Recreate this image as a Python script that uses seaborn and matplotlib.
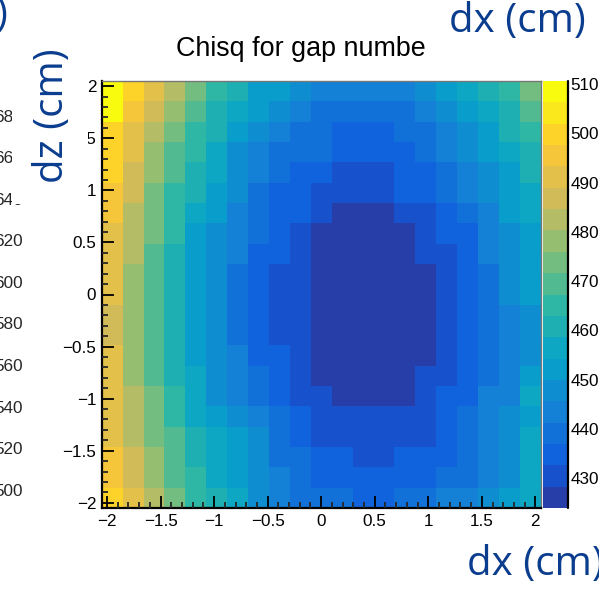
import numpy as np
import pandas as pd
import matplotlib
matplotlib.use("Agg")
import matplotlib.pyplot as plt
from matplotlib.colors import ListedColormap, BoundaryNorm, LinearSegmentedColormap
from matplotlib.patches import Rectangle
from matplotlib.ticker import FixedLocator
import seaborn as sns

sns.set_theme(style="white")
plt.rcParams["font.family"] = ["Liberation Sans", "DejaVu Sans"]

W, H, DPI = 599, 597, 100

# binning of the scan: 21 x 21 bins over [-2.05, 2.05] cm
dx_range = (-2.05, 2.05)
dz_range = (-2.05, 2.05)
n_bins = 21
n_levels = 20

# chi-square per (dz, dx) bin; first row is the top row (dz = +1.95)
chisq = [
    [510.6, 500, 491, 482, 474, 465, 461, 452, 452, 448, 443, 443, 443, 443, 443, 448, 452, 456, 461, 465, 474],
    [508, 495, 487, 478, 469, 461, 456, 452, 448, 443, 439, 439, 439, 439, 439, 443, 448, 452, 456, 461, 469],
    [500, 491, 482, 474, 465, 461, 452, 448, 443, 439, 439, 435, 435, 435, 439, 439, 443, 448, 452, 461, 465],
    [500, 491, 478, 469, 465, 456, 448, 443, 439, 439, 439, 435, 435, 435, 435, 439, 443, 448, 452, 456, 461],
    [500, 487, 478, 469, 461, 456, 448, 443, 439, 435, 435, 430, 430, 430, 435, 435, 439, 443, 448, 452, 461],
    [495, 487, 474, 465, 461, 452, 448, 439, 435, 435, 430, 430, 430, 430, 435, 435, 439, 443, 448, 452, 456],
    [495, 482, 474, 465, 456, 452, 443, 439, 435, 435, 430, 426, 426, 426, 430, 430, 435, 439, 443, 452, 456],
    [491, 482, 474, 465, 452, 448, 443, 439, 435, 430, 426, 426, 426, 426, 426, 430, 435, 435, 443, 448, 452],
    [491, 482, 469, 461, 452, 448, 443, 435, 435, 430, 426, 426, 426, 426, 426, 430, 430, 435, 443, 448, 452],
    [491, 478, 469, 461, 452, 448, 439, 435, 430, 430, 426, 426, 426, 426, 426, 426, 430, 435, 439, 448, 452],
    [491, 478, 469, 461, 452, 448, 439, 435, 430, 430, 426, 426, 424, 426, 426, 426, 430, 435, 439, 448, 452],
    [487, 478, 469, 461, 452, 448, 439, 435, 430, 430, 426, 426, 426, 426, 426, 426, 430, 435, 439, 443, 448],
    [487, 478, 469, 461, 452, 448, 439, 435, 430, 430, 426, 426, 426, 426, 426, 426, 430, 435, 439, 443, 448],
    [491, 478, 469, 461, 452, 448, 443, 435, 435, 430, 426, 426, 426, 426, 426, 426, 430, 435, 439, 443, 448],
    [491, 478, 469, 461, 456, 448, 443, 439, 435, 430, 426, 426, 426, 426, 426, 430, 430, 435, 439, 443, 452],
    [491, 482, 474, 465, 456, 448, 443, 439, 435, 430, 430, 426, 426, 426, 426, 430, 435, 435, 443, 443, 456],
    [491, 482, 474, 465, 456, 452, 448, 443, 439, 435, 430, 430, 430, 430, 430, 430, 435, 439, 443, 448, 452],
    [491, 482, 474, 469, 461, 456, 452, 448, 439, 435, 430, 430, 430, 430, 430, 430, 435, 439, 443, 448, 456],
    [495, 487, 478, 469, 461, 456, 452, 448, 439, 439, 435, 435, 430, 430, 435, 435, 435, 439, 443, 448, 456],
    [495, 487, 478, 469, 465, 456, 452, 448, 443, 439, 435, 435, 435, 435, 435, 435, 439, 439, 443, 448, 456],
    [500, 491, 482, 474, 465, 461, 456, 448, 443, 439, 439, 439, 435, 435, 439, 439, 443, 443, 448, 452, 456],
]

x_major = [-2, -1.5, -1, -0.5, 0, 0.5, 1, 1.5, 2]
y_major = [-2, -1.5, -1, -0.5, 0, 0.5, 1, 1.5, 2]
z_ticks = [430, 440, 450, 460, 470, 480, 490, 500, 510]
side_ticks = [500, 520, 540, 560, 580, 600, 620, 640, 660, 680]

title = "Chisq for gap numbe"
BLUE = "#0b3d8f"
OVER_FONT = ["Open Sans", "DejaVu Sans"]

# ROOT "bird" palette, sampled the way THistPainter picks contour colours
bird_stops = [0.0, 0.125, 0.25, 0.375, 0.5, 0.625, 0.75, 0.875, 1.0]
bird_r = [0.2082, 0.0592, 0.0780, 0.0232, 0.1802, 0.5301, 0.8186, 0.9956, 0.9764]
bird_g = [0.1664, 0.3599, 0.5041, 0.6419, 0.7178, 0.7492, 0.7328, 0.7862, 0.9832]
bird_b = [0.5293, 0.8684, 0.8385, 0.7914, 0.6425, 0.4662, 0.3499, 0.1968, 0.0539]
bird = LinearSegmentedColormap.from_list(
    "bird", [(s, (r, g, b)) for s, r, g, b in zip(bird_stops, bird_r, bird_g, bird_b)], N=255)
band_colors = [bird(int((i + 0.99) * 255 / n_levels) / 254) for i in range(n_levels)]
cmap = ListedColormap(band_colors)

data = pd.DataFrame(chisq)
zmin, zmax = float(data.values.min()), float(data.values.max())
levels = np.linspace(zmin, zmax, n_levels + 1)
norm = BoundaryNorm(levels, n_levels)


def fx(px):
    return px / W


def fy(py):
    return 1 - py / H


fig = plt.figure(figsize=(W / DPI, H / DPI), dpi=DPI, facecolor="white")
ax = fig.add_axes([fx(101.7), fy(508), (540.7 - 101.7) / W, (508 - 81) / H])
cax = fig.add_axes([fx(542.7), fy(508), 25 / W, (508 - 81) / H])

sns.heatmap(data, ax=ax, cmap=cmap, norm=norm, cbar_ax=cax,
            xticklabels=False, yticklabels=False)

# map axis values onto heatmap cell coordinates
bw_x = (dx_range[1] - dx_range[0]) / n_bins
bw_y = (dz_range[1] - dz_range[0]) / n_bins


def xpos(v):
    return (v - dx_range[0]) / bw_x


def ypos(v):
    return (dz_range[1] - v) / bw_y


def lab(v):
    s = f"{v:g}"
    return s.replace("-", "\u2212")


minor_vals = np.round(np.arange(-2.0, 2.0001, 0.1), 2)
ax.set_xlim(0, n_bins)
ax.set_ylim(n_bins, 0)
ax.xaxis.set_major_locator(FixedLocator([xpos(v) for v in x_major]))
ax.xaxis.set_minor_locator(FixedLocator([xpos(v) for v in minor_vals]))
ax.set_xticklabels([lab(v) for v in x_major])
ax.yaxis.set_major_locator(FixedLocator([ypos(v) for v in y_major]))
ax.yaxis.set_minor_locator(FixedLocator([ypos(v) for v in minor_vals]))
ax.set_yticklabels([lab(v) for v in y_major])
ax.tick_params(axis="both", which="major", direction="in", length=8.5, width=1.3,
               labelsize=12.3, colors="black", pad=4, bottom=True, left=True,
               top=False, right=False)
ax.tick_params(axis="both", which="minor", direction="in", length=4.3, width=1.3,
               bottom=True, left=True, top=False, right=False)
ax.set_axisbelow(False)
ax.set_xlabel("")
ax.set_ylabel("")
for side in ["left", "bottom"]:
    ax.spines[side].set_visible(True)
    ax.spines[side].set_color("black")
    ax.spines[side].set_linewidth(1.6)
for side in ["top", "right"]:
    ax.spines[side].set_visible(True)
    ax.spines[side].set_color("#777777")
    ax.spines[side].set_linewidth(1.0)

# colour scale
cbar = ax.collections[0].colorbar
cbar.outline.set_visible(False)
cbar.set_ticks(z_ticks)
cbar.set_ticklabels([str(t) for t in z_ticks])
cax.yaxis.set_ticks_position("right")
cax.tick_params(axis="y", which="major", direction="in", length=9.5, width=1.3,
                labelsize=12.3, pad=2, colors="black")
cax.tick_params(axis="y", which="minor", length=0)
cax.plot([1, 1], [0, 1], transform=cax.transAxes, color="black", lw=1.6, clip_on=False)

fig.text(fx(301), fy(56), title, ha="center", va="baseline", fontsize=19.4, color="black")

# neighbouring scale at the left edge
side_ax = fig.add_axes([fx(29), fy(508), 1 / W, (508 - 81) / H])
per_px = 20 / 41.55
side_ax.set_ylim(500 - (508 - 489.5) * per_px, 680 + (116 - 81) * per_px)
side_ax.set_xlim(0, 1)
side_ax.yaxis.set_major_locator(FixedLocator(side_ticks))
side_ax.set_yticklabels([str(t) for t in side_ticks])
side_ax.set_xticks([])
side_ax.tick_params(axis="y", length=0, pad=4.5, labelsize=12.3)
for s in side_ax.spines.values():
    s.set_visible(False)
side_ax.patch.set_alpha(0)

# axis-title overlays
fig.add_artist(Rectangle((fx(12), fy(204)), (87.5 - 12) / W, (204 - 30) / H,
                         transform=fig.transFigure, facecolor="white",
                         edgecolor="none", zorder=5))
fig.text(fx(52.5), fy(116), "dz (cm)", rotation=90, ha="center", va="center",
         fontsize=29, color=BLUE, family=OVER_FONT, zorder=6)
fig.text(fx(517.5), fy(22), "dx (cm)", ha="center", va="center",
         fontsize=29, color=BLUE, family=OVER_FONT, zorder=6)
fig.text(fx(467), fy(565), "dx (cm)", ha="left", va="center",
         fontsize=29, color=BLUE, family=OVER_FONT, zorder=6)
fig.text(fx(8), fy(16), ")", ha="right", va="center",
         fontsize=29, color=BLUE, family=OVER_FONT, zorder=6)

fig.savefig("out.png", dpi=DPI, facecolor="white")
